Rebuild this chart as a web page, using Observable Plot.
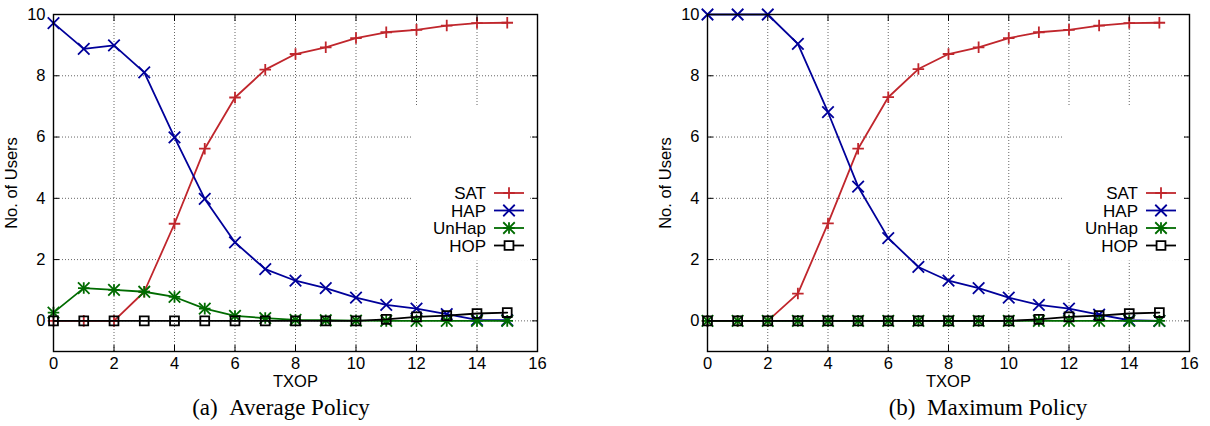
<!DOCTYPE html>
<html>
<head>
<meta charset="utf-8">
<script src="https://cdn.jsdelivr.net/npm/d3@7"></script>
<script src="https://cdn.jsdelivr.net/npm/@observablehq/plot@0.6"></script>
<style>
  html, body { margin: 0; padding: 0; background: #fff; }
  #wrap { position: relative; width: 1210px; height: 426px; overflow: hidden; }
  .panel { position: absolute; top: 0; width: 605px; height: 390px; }
  .panel svg { position: absolute; left: 0; top: 0; }
  .caption { position: absolute; top: 395px; font-family: "Liberation Serif", "Times New Roman", serif; font-size: 23px; color: #000; white-space: pre; transform: translateX(-50%); }
</style>
</head>
<body>
<div id="wrap"></div>
<script>
// ---- data ----
const txop = [0, 1, 2, 3, 4, 5, 6, 7, 8, 9, 10, 11, 12, 13, 14, 15];
const seriesNames = ["SAT", "HAP", "UnHap", "HOP"];

const avgSAT   = [0, 0, 0, 0.95, 3.17, 5.62, 7.29, 8.20, 8.71, 8.93, 9.23, 9.42, 9.50, 9.64, 9.72, 9.73];
const avgHAP   = [9.72, 8.88, 8.99, 8.11, 5.99, 3.98, 2.56, 1.69, 1.31, 1.07, 0.76, 0.52, 0.40, 0.22, 0.03, 0.02];
const avgUnHap = [0.27, 1.07, 1.01, 0.95, 0.78, 0.40, 0.16, 0.09, 0.03, 0.02, 0.01, 0, 0, 0, 0, 0];
const avgHOP   = [0, 0, 0, 0, 0, 0, 0, 0, 0, 0, 0, 0.05, 0.13, 0.17, 0.24, 0.27];

const maxSAT   = [0, 0, 0, 0.89, 3.18, 5.62, 7.30, 8.22, 8.71, 8.93, 9.23, 9.42, 9.50, 9.64, 9.72, 9.73];
const maxHAP   = [10, 10, 10, 9.04, 6.81, 4.38, 2.70, 1.76, 1.31, 1.07, 0.76, 0.52, 0.40, 0.20, 0.02, 0];
const maxUnHap = [0, 0, 0, 0, 0, 0, 0, 0, 0, 0, 0, 0, 0, 0, 0, 0];
const maxHOP   = [0, 0, 0, 0, 0, 0, 0, 0, 0, 0, 0, 0.05, 0.13, 0.17, 0.24, 0.27];

const xTicks = [0, 2, 4, 6, 8, 10, 12, 14, 16];
const yTicks = [0, 2, 4, 6, 8, 10];
const xLabel = "TXOP";
const yLabel = "No. of Users";
const captions = ["(a)\u2002Average Policy", "(b)\u2002Maximum Policy"];

// ---- styles ----
const seriesColors = ["#c0262c", "#00009a", "#006b00", "#000000"];
const seriesSymbols = [["plus"], ["times"], ["plus", "times"], ["square"]];
const symR = { plus: 3.8, times: 5.3, square: 5.0 };
const W = 605, H = 390;
const FONT = '"Liberation Sans", Arial, Helvetica, sans-serif';

function makePanel(values, mLeft, mRight, left, caption, captionX) {
  const rows = seriesNames.map((s, i) => txop.map((t, j) => ({ series: s, txop: t, value: values[i][j] })));
  const gridStyle = { stroke: "#666", strokeOpacity: 1, strokeDasharray: "1,2", strokeWidth: 1 };
  const marks = [
    Plot.gridX(xTicks, gridStyle),
    Plot.gridY(yTicks, gridStyle)
  ];
  rows.forEach((d, i) => {
    marks.push(Plot.line(d, { x: "txop", y: "value", stroke: seriesColors[i], strokeWidth: 1.8 }));
    seriesSymbols[i].forEach(sym => marks.push(
      Plot.dot(d, { x: "txop", y: "value", symbol: sym, r: symR[sym], stroke: seriesColors[i], strokeWidth: 1.8, fill: "none" })
    ));
  });
  marks.push(
    Plot.axisX(xTicks, { anchor: "bottom", tickSize: -6, tickPadding: 12, label: xLabel, labelAnchor: "center", labelArrow: "none", labelOffset: 35, fontSize: 16.5 }),
    Plot.axisX(xTicks, { anchor: "top", tickSize: -6, tickFormat: () => "", label: null }),
    Plot.axisY(yTicks, { anchor: "left", tickSize: -6, tickPadding: 14, label: yLabel, labelAnchor: "center", labelArrow: "none", labelOffset: 48, fontSize: 16.5 }),
    Plot.axisY(yTicks, { anchor: "right", tickSize: -6, tickFormat: () => "", label: null }),
    Plot.frame({ stroke: "#000", strokeWidth: 1.4 })
  );
  const chart = Plot.plot({
    width: W, height: H,
    marginLeft: mLeft, marginRight: mRight, marginTop: 14, marginBottom: H - 351,
    x: { domain: [0, 16] },
    y: { domain: [-1, 10] },
    style: { fontFamily: FONT, fontSize: "16.5px", color: "#000", background: "transparent" },
    marks
  });

  const div = document.createElement("div");
  div.className = "panel";
  div.style.left = left + "px";
  div.appendChild(chart);

  // legend overlay (gnuplot key, opaque)
  const fr = W - mRight;
  const leg = d3.create("svg").attr("width", W).attr("height", H);
  leg.append("rect").attr("x", fr - 126).attr("y", 105).attr("width", 119).attr("height", 155.5).attr("fill", "#fff");
  const rowY = [193, 210.5, 228, 245.5];
  seriesNames.forEach((s, i) => {
    const g = leg.append("g");
    g.append("text").attr("x", fr - 51).attr("y", rowY[i]).attr("text-anchor", "end").attr("dy", "0.36em")
      .attr("font-family", FONT).attr("font-size", 17).text(s);
    g.append("line").attr("x1", fr - 43).attr("x2", fr - 13).attr("y1", rowY[i]).attr("y2", rowY[i])
      .attr("stroke", seriesColors[i]).attr("stroke-width", 1.8);
    seriesSymbols[i].forEach(sym => {
      const sz = Math.PI * symR[sym] * symR[sym];
      const symType = { plus: d3.symbolPlus, times: d3.symbolTimes, square: d3.symbolSquare }[sym];
      g.append("path").attr("d", d3.symbol(symType, sz)())
        .attr("transform", `translate(${fr - 28},${rowY[i]})`)
        .attr("fill", sym === "square" ? "#fff" : "none").attr("stroke", seriesColors[i]).attr("stroke-width", 1.8);
    });
  });
  div.appendChild(leg.node());
  document.getElementById("wrap").appendChild(div);

  const cap = document.createElement("div");
  cap.className = "caption";
  cap.style.left = captionX + "px";
  cap.textContent = caption;
  document.getElementById("wrap").appendChild(cap);
}

makePanel([avgSAT, avgHAP, avgUnHap, avgHOP], 53, 68, 0, captions[0], 281);
makePanel([maxSAT, maxHAP, maxUnHap, maxHOP], 102, 21, 605, captions[1], 988);
</script>
</body>
</html>
